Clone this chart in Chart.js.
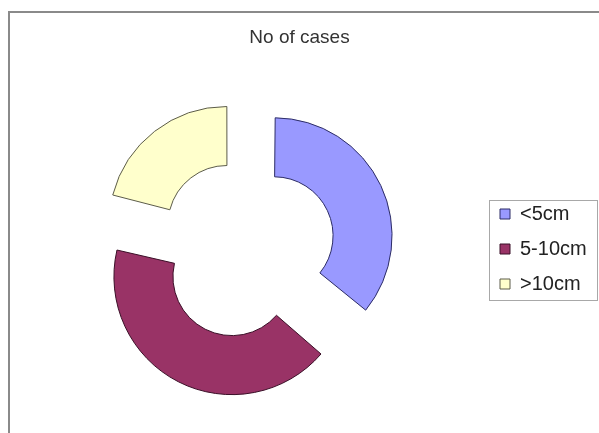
<!DOCTYPE html>
<html>
<head>
<meta charset="utf-8">
<script src="https://cdn.jsdelivr.net/npm/chart.js@4.4.0/dist/chart.umd.min.js"></script>
<style>
  html, body { margin: 0; padding: 0; background: #ffffff; }
  #wrap { width: 599px; height: 433px; }
</style>
</head>
<body>
<div id="wrap"><canvas id="c" width="599" height="433"></canvas></div>
<script>
const chartTitle = 'No of cases';
const categories = ['<5cm', '5-10cm', '>10cm'];
const cases = [36, 43, 21];
const fillColors = ['#9999FF', '#993366', '#FFFFCC'];
const edgeColors = ['#2d2d66', '#3b1028', '#5c5c4a'];

// Keep exploded slices at their own ring radius (Chart.js enlarges offset arcs)
const explodeFix = {
  id: 'explodeFix',
  afterDatasetsUpdate(chart) {
    chart.getDatasetMeta(0).data.forEach(arc => {
      const off = ((arc.options && arc.options.offset) || 0) / 4;
      const fix = 1 - Math.sin(Math.min(Math.PI, arc.circumference));
      arc.outerRadius -= off * fix;
      arc.innerRadius -= off * fix;
    });
  }
};

// Plot frame and legend frame
const frames = {
  id: 'frames',
  beforeDraw(chart) {
    const ctx = chart.ctx;
    ctx.save();
    ctx.fillStyle = '#ffffff';
    ctx.fillRect(0, 0, chart.width, chart.height);
    ctx.strokeStyle = '#8a8a8a';
    ctx.lineWidth = 2;
    ctx.strokeRect(9, 12, 800, 800);
    ctx.strokeStyle = '#a8a8a8';
    ctx.lineWidth = 1;
    ctx.strokeRect(489.5, 200.5, 108, 100);
    ctx.restore();
  }
};

new Chart(document.getElementById('c'), {
  type: 'doughnut',
  data: {
    labels: categories,
    datasets: [{
      data: cases,
      backgroundColor: fillColors,
      borderColor: edgeColors,
      borderWidth: 1,
      offset: 124,
      hoverOffset: 0
    }]
  },
  plugins: [explodeFix, frames],
  options: {
    responsive: false,
    animation: false,
    events: [],
    radius: 118,
    cutout: '50%',
    layout: { padding: { left: 7, right: 7, top: 0, bottom: 0 } },
    plugins: {
      title: {
        display: true,
        text: chartTitle,
        color: '#333333',
        font: { family: 'Liberation Sans', size: 19, weight: 'normal' },
        padding: { top: 26.6, bottom: 15.6 }
      },
      legend: {
        position: 'right',
        fullSize: false,
        maxWidth: 107,
        labels: {
          boxWidth: 10,
          boxHeight: 10,
          padding: 15,
          color: '#222222',
          font: { family: 'Liberation Sans', size: 20 }
        }
      },
      tooltip: { enabled: false }
    }
  }
});
</script>
</body>
</html>
